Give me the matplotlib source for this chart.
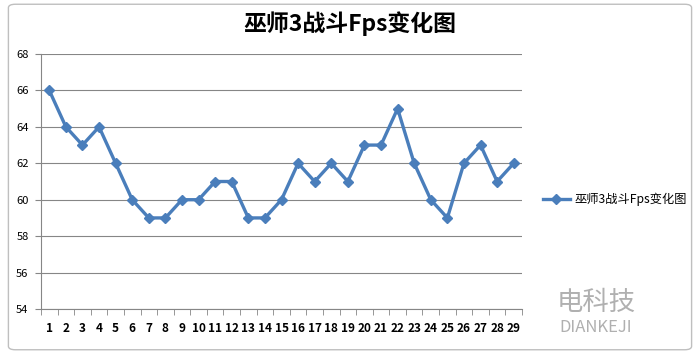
import matplotlib
matplotlib.use("Agg")
import matplotlib.pyplot as plt
from matplotlib.patches import FancyBboxPatch

plt.rcParams['font.family'] = ['Noto Sans CJK SC', 'DejaVu Sans']

# 数据
frames = list(range(1, 30))
fps = [66, 64, 63, 64, 62, 60, 59, 59, 60, 60, 61, 61, 59, 59, 60,
       62, 61, 62, 61, 63, 63, 65, 62, 60, 59, 62, 63, 61, 62]
y_ticks = [54, 56, 58, 60, 62, 64, 66, 68]
title = '巫师3战斗Fps变化图'

fig = plt.figure(figsize=(7, 3.54), dpi=100)
fig.patch.set_facecolor('white')

# 外框
fig.patches.append(FancyBboxPatch((0.012, 0.012), 0.976, 0.976,
                                  boxstyle='round,pad=0,rounding_size=0.01',
                                  transform=fig.transFigure, fill=False,
                                  edgecolor='#bfbfbf', linewidth=1))

ax = fig.add_axes([41 / 700, 1 - 309 / 354, (522 - 41) / 700, (309 - 54) / 354])
ax.plot(frames, fps, color='#4A7EBB', linewidth=2.4, marker='D',
        markersize=5, label=title, zorder=3)

ax.set_ylim(54, 68)
ax.set_yticks(y_ticks)
ax.set_xlim(0.5, 29.5)
ax.set_xticks(frames)
ax.set_xticks([i + 0.5 for i in range(0, 30)], minor=True)
ax.tick_params(axis='x', which='major', length=0, pad=9, labelsize=8.5)
ax.tick_params(axis='x', which='minor', length=4, direction='out', color='#868686')
ax.tick_params(axis='y', length=4, direction='out', color='#868686', labelsize=8, pad=5)
for lbl in ax.get_xticklabels():
    lbl.set_fontweight('bold')

ax.grid(axis='y', color='#868686', linewidth=0.8)
ax.set_axisbelow(True)
for s in ['top', 'right']:
    ax.spines[s].set_visible(False)
ax.spines['left'].set_color('#868686')
ax.spines['bottom'].set_color('#868686')

fig.text(350 / 700, 1 - 24 / 354, title, ha='center', va='center',
         fontsize=16.5, fontweight='bold')

ax.legend(loc='center left', bbox_to_anchor=(1.02, 0.43), frameon=False,
          fontsize=8.8, handlelength=2.2, handletextpad=0.4)

# 水印
fig.text(596 / 700, 1 - 302 / 354, '电科技', ha='center', va='center',
         fontsize=19, color='#b0b0b0')
fig.text(596 / 700, 1 - 327 / 354, 'DIANKEJI', ha='center', va='center',
         fontsize=12, color='#b0b0b0')

fig.savefig('out.png', dpi=100)
